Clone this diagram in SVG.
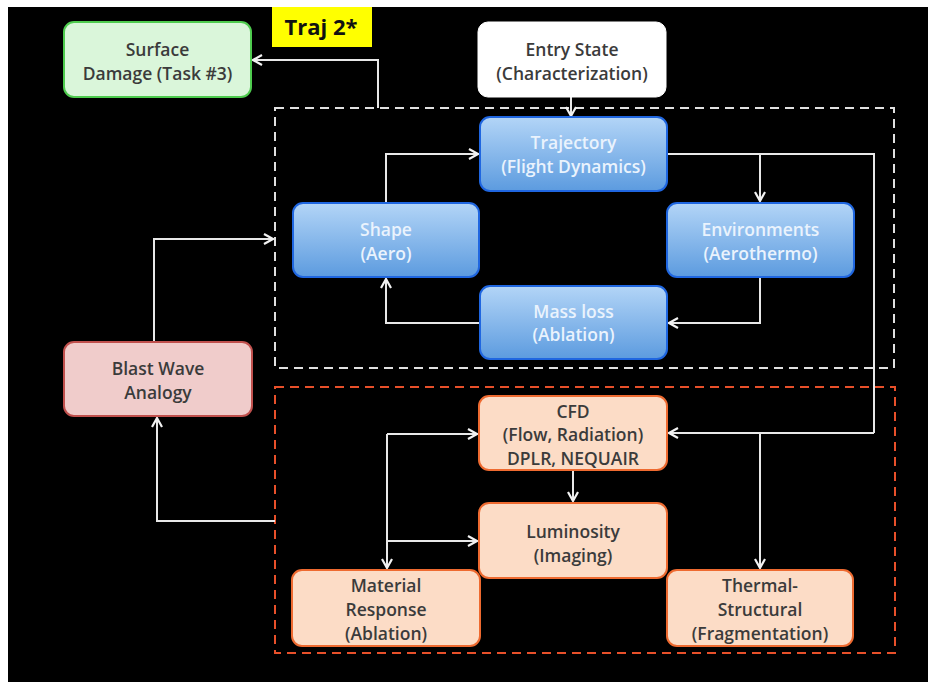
<svg xmlns="http://www.w3.org/2000/svg" width="928" height="682" viewBox="0 0 928 682">
<defs>
<linearGradient id="blue" x1="0" y1="0" x2="0" y2="1">
<stop offset="0" stop-color="#b3d5f7"/>
<stop offset="1" stop-color="#5c9bdf"/>
</linearGradient>
<marker id="arr" viewBox="0 0 12 12" refX="11" refY="6" markerWidth="12" markerHeight="12" markerUnits="userSpaceOnUse" orient="auto">
<path d="M2,1 L11,6 L2,11" fill="none" stroke="#f2f2f2" stroke-width="2.2"/>
</marker>
<style>
.t{font-family:"Open Sans","Liberation Sans",Arial,sans-serif;font-size:17.5px;font-weight:600;text-anchor:middle}
.dk{fill:#3b3b3b}
.lt{fill:#eaf3fd}
.bl{fill:url(#blue);stroke:#1f66e0;stroke-width:2}
.pe{fill:#fcdcc6;stroke:#ee6a30;stroke-width:2}
.gr{fill:#daf6da;stroke:#4ecb4e;stroke-width:2}
.wh{fill:#ffffff;stroke:#ffffff;stroke-width:1}
.pk{fill:#f0cccb;stroke:#c0504d;stroke-width:2}
.c{fill:none;stroke:#e8e8e8;stroke-width:2}
.ca{fill:none;stroke:#e8e8e8;stroke-width:2;marker-end:url(#arr)}
</style>
</defs>
<rect x="8" y="7" width="920" height="675" fill="#000"/>

<g id="groups">
<rect x="275" y="108" width="619" height="260" fill="none" stroke="#e0e0e0" stroke-width="2" stroke-dasharray="9,6"/>
<rect x="275" y="387" width="620" height="266" fill="none" stroke="#e8502a" stroke-width="2" stroke-dasharray="9,6"/>
</g>

<g id="connectors">
<path class="ca" d="M378,108 V60 H253"/>
<path class="ca" d="M571,97 V116"/>
<path class="ca" d="M386,203 V154 H478"/>
<path class="c" d="M667,154 H874 V433"/>
<path class="ca" d="M874,433 H669"/>
<path class="ca" d="M760,154 V201"/>
<path class="ca" d="M760,277 V323 H669"/>
<path class="ca" d="M480,323 H386 V279"/>
<path class="ca" d="M760,433 V568"/>
<path class="ca" d="M154,342 V239 H273"/>
<path class="ca" d="M275,521 H157 V418"/>
<path class="ca" d="M573,470 V501"/>
<path class="ca" d="M387,434 H477"/>
<path class="ca" d="M387,434 V568"/>
<path class="ca" d="M387,541 H477"/>
</g>

<g id="traj2">
<rect x="272" y="7" width="100" height="40" fill="#ffff00"/>
<text x="321" y="35" style="font-family:'Open Sans','Liberation Sans',Arial,sans-serif;font-size:22px;font-weight:700;text-anchor:middle" fill="#111">Traj 2*</text>
</g>

<g id="surface">
<rect class="gr" x="64" y="22" width="187" height="75" rx="10"/>
<text class="t dk" x="157.5" y="56">Surface</text>
<text class="t dk" x="157.5" y="80">Damage (Task #3)</text>
</g>

<g id="entry">
<rect class="wh" x="478" y="22" width="188" height="75" rx="10"/>
<text class="t dk" x="572" y="56">Entry State</text>
<text class="t dk" x="572" y="80">(Characterization)</text>
</g>

<g id="trajectory">
<rect class="bl" x="480" y="117" width="187" height="74" rx="10"/>
<text class="t lt" x="573.5" y="149">Trajectory</text>
<text class="t lt" x="573.5" y="173">(Flight Dynamics)</text>
</g>

<g id="shape">
<rect class="bl" x="293" y="203" width="186" height="74" rx="10"/>
<text class="t lt" x="386" y="236">Shape</text>
<text class="t lt" x="386" y="260">(Aero)</text>
</g>

<g id="environments">
<rect class="bl" x="667" y="203" width="187" height="74" rx="10"/>
<text class="t lt" x="760.5" y="236">Environments</text>
<text class="t lt" x="760.5" y="260">(Aerothermo)</text>
</g>

<g id="massloss">
<rect class="bl" x="480" y="286" width="187" height="73" rx="10"/>
<text class="t lt" x="573.5" y="318">Mass loss</text>
<text class="t lt" x="573.5" y="341">(Ablation)</text>
</g>

<g id="blastwave">
<rect class="pk" x="64" y="342" width="188" height="74" rx="10"/>
<text class="t dk" x="158" y="375">Blast Wave</text>
<text class="t dk" x="158" y="399">Analogy</text>
</g>

<g id="cfd">
<rect class="pe" x="479" y="396" width="188" height="74" rx="10"/>
<text class="t dk" x="573" y="418">CFD</text>
<text class="t dk" x="573" y="441">(Flow, Radiation)</text>
<text class="t dk" x="573" y="465">DPLR, NEQUAIR</text>
</g>

<g id="luminosity">
<rect class="pe" x="479" y="503" width="188" height="75" rx="10"/>
<text class="t dk" x="573" y="538">Luminosity</text>
<text class="t dk" x="573" y="562">(Imaging)</text>
</g>

<g id="material">
<rect class="pe" x="292" y="570" width="188" height="76" rx="10"/>
<text class="t dk" x="386" y="592">Material</text>
<text class="t dk" x="386" y="616">Response</text>
<text class="t dk" x="386" y="640">(Ablation)</text>
</g>

<g id="thermal">
<rect class="pe" x="667" y="570" width="186" height="76" rx="10"/>
<text class="t dk" x="760" y="592">Thermal-</text>
<text class="t dk" x="760" y="616">Structural</text>
<text class="t dk" x="760" y="640">(Fragmentation)</text>
</g>
</svg>
